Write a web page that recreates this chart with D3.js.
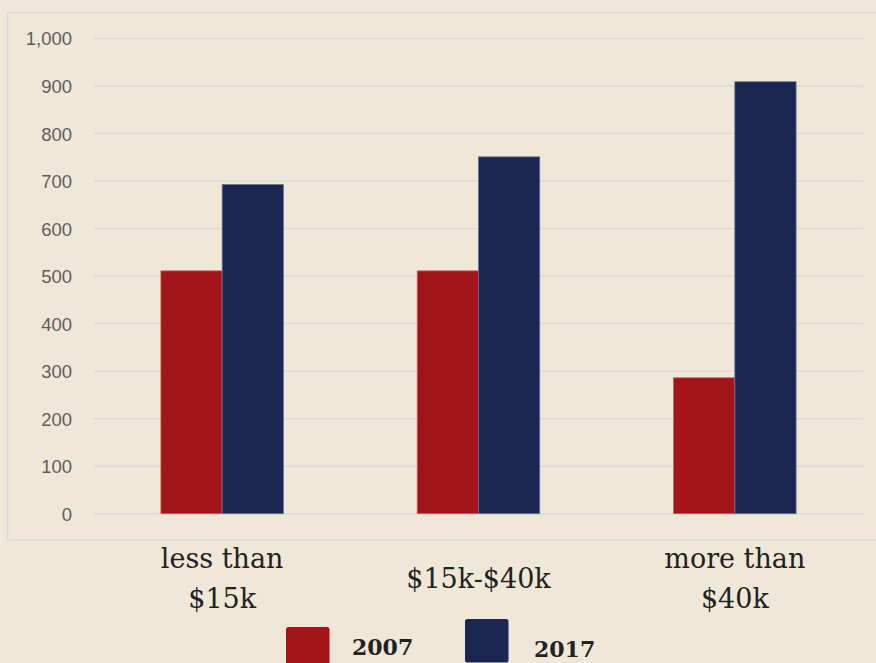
<!DOCTYPE html>
<html>
<head>
<meta charset="utf-8">
<script src="https://cdn.jsdelivr.net/npm/d3@7"></script>
<style>
  html, body { margin: 0; padding: 0; background: #EFE8D8; }
  svg { display: block; }
</style>
</head>
<body>
<svg id="chart" width="876" height="663"></svg>
<script>
// ---- Data ----
const categories = ["less than $15k", "$15k-$40k", "more than $40k"];
const categoryLines = [["less than", "$15k"], ["$15k-$40k"], ["more than", "$40k"]];
const seriesNames = ["2007", "2017"];
const values2007 = [511, 511, 286];
const values2017 = [693, 751, 909];
const yTicks = [0, 100, 200, 300, 400, 500, 600, 700, 800, 900, 1000];
const colors = ["#A31419", "#1A2751"];

// ---- Layout ----
const svg = d3.select("#chart");
const W = 876, H = 663;
const plot = { left: 94, right: 863, top: 38.5, bottom: 513.7 };

svg.append("rect").attr("width", W).attr("height", H).attr("fill", "#EFE8D8");

// frame
svg.append("path")
  .attr("d", `M880,12.5 H7.5 V540 H880`)
  .attr("fill", "none")
  .attr("stroke", "#D8D8DE")
  .attr("stroke-width", 1.5);

const x = d3.scaleBand()
  .domain(categories)
  .range([plot.left, plot.right])
  .paddingInner(0.522)
  .paddingOuter(0.261);

const xSub = d3.scaleBand()
  .domain(seriesNames)
  .range([0, x.bandwidth()]);

const y = d3.scaleLinear().domain([0, 1000]).range([plot.bottom, plot.top]);

// gridlines
svg.append("g").selectAll("line").data(yTicks).join("line")
  .attr("x1", plot.left).attr("x2", plot.right)
  .attr("y1", d => y(d)).attr("y2", d => y(d))
  .attr("stroke", "#DCD9D5").attr("stroke-width", 1.5);

// y axis labels
const yAxis = d3.axisLeft(y).tickValues(yTicks).tickSize(0).tickPadding(0)
  .tickFormat(d3.format(","));
const gy = svg.append("g").attr("transform", "translate(72,0)").call(yAxis);
gy.select(".domain").remove();
gy.selectAll("text")
  .attr("font-family", "'Liberation Sans', Arial, sans-serif")
  .attr("font-size", 18.5)
  .attr("fill", "#5E5E5E")
  .attr("dy", "0.35em")
  .attr("text-anchor", "end");

// bars
const rows = categories.map((c, i) => ({ cat: c, vals: [values2007[i], values2017[i]] }));
const groups = svg.append("g").selectAll("g").data(rows).join("g")
  .attr("transform", d => `translate(${x(d.cat)},0)`);
groups.selectAll("rect")
  .data(d => d.vals.map((v, j) => ({ key: seriesNames[j], v, j })))
  .join("rect")
  .attr("x", d => xSub(d.key))
  .attr("width", xSub.bandwidth())
  .attr("y", d => y(d.v))
  .attr("height", d => y(0) - y(d.v))
  .attr("fill", d => colors[d.j])
  .attr("stroke", d => d.j === 0 ? "#C06060" : "#6F7688")
  .attr("stroke-width", 0.8);

// category labels
const xAxisG = svg.append("g");
const labelFont = "'DejaVu Serif', 'Liberation Serif', serif";
categories.forEach((c, i) => {
  const lines = categoryLines[i];
  const cx = x(c) + x.bandwidth() / 2;
  const t = xAxisG.append("text")
    .attr("x", cx)
    .attr("text-anchor", "middle")
    .attr("font-family", labelFont)
    .attr("font-size", 27)
    .attr("fill", "#222");
  if (lines.length === 1) {
    t.append("tspan").attr("x", cx).attr("y", 588).text(lines[0]);
  } else {
    lines.forEach((ln, k) => {
      t.append("tspan").attr("x", cx).attr("y", 568 + k * 40).text(ln);
    });
  }
});

// legend
const legendItems = [
  { name: seriesNames[0], color: colors[0], sx: 286, sy: 627, tx: 352, ty: 655 },
  { name: seriesNames[1], color: colors[1], sx: 465, sy: 619, tx: 534, ty: 657 }
];
const lg = svg.append("g");
legendItems.forEach(it => {
  lg.append("rect")
    .attr("x", it.sx).attr("y", it.sy)
    .attr("width", 43.5).attr("height", 43.5)
    .attr("rx", 2.5)
    .attr("fill", it.color);
  lg.append("text")
    .attr("x", it.tx).attr("y", it.ty)
    .attr("font-family", labelFont)
    .attr("font-size", 22)
    .attr("font-weight", "bold")
    .attr("fill", "#222")
    .text(it.name);
});
</script>
</body>
</html>
